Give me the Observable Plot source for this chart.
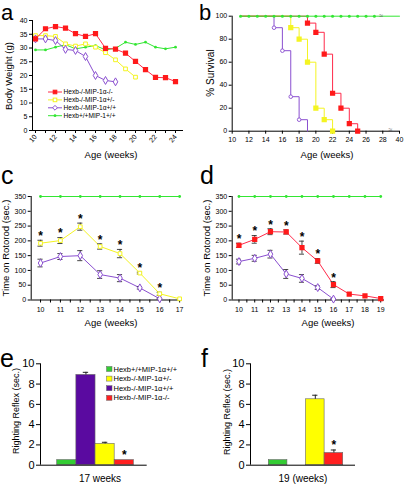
<!DOCTYPE html>
<html><head><meta charset="utf-8">
<script src="https://cdn.jsdelivr.net/npm/d3@7"></script>
<script src="https://cdn.jsdelivr.net/npm/@observablehq/plot@0.6"></script>
<style>
body{margin:0;background:#fff;}
#fig{position:relative;width:405px;height:485px;overflow:hidden;background:#fff;font-family:Arial,"Liberation Sans",Helvetica,sans-serif;}
#fig svg{position:absolute;overflow:visible;}
</style></head><body><div id="fig"></div>
<script>
// ---------- DATA ----------
// Panel a: body weight (g) by age (weeks)
const weeksA = [10,11,12,13,14,15,16,17,18,19,20,21,22,23,24];
const weightRed = [33.3,37.0,37.8,37.2,35.2,34.2,35.2,29.9,29.6,28.1,25.1,22.1,19.3,19.2,17.8];
const weightYellow = [34.5,34.5,34.2,31.5,30.7,31.5,30.3,28.3,25.7,22.4,19.4];
const weightPurple = [33.3,33.3,32.7,29.5,29.1,26.9,20.0,18.2,17.7];
const weightGreen = [29.3,29.3,30.3,31.2,29.7,30.3,30.9,29.3,29.9,32.1,31.3,32.1,30.3,29.7,30.3];
const ticksYA = [0,5,10,15,20,25,30,35,40];
const legendA = ["Hexb-/-MIP-1α-/-","Hexb-/-MIP-1α+/-","Hexb-/-MIP-1α+/+","Hexb+/+MIP-1+/+"];

// Panel b: % survival (40 weeks drawn after a break at 28)
const survWeeksRed = [11,19,20,21,22,23,24,25];
const survRed = [100,94,86,67,33,20,6.5,0];
const survWeeksYellow = [11,17,18,19,20,21,22];
const survYellow = [100,90,80,60,20,10,0];
const survWeeksPurple = [11,15,16,17,18,19];
const survPurple = [100,90,70,30,10,0];
const survWeeksGreen = [11,12,13,14,15,16,17,18,19,20,21,22,23,24,25,26,27,40];
const survGreen = survWeeksGreen.map(() => 100);
const ticksXB = [10,12,14,16,18,20,22,24,26,28,40];
const ticksYB = [0,20,40,60,80,100];

// Panel c: rotorod (sec.)
const weeksC = [10,11,12,13,14,15,16,17];
const rotoYellowC = [192,201,248,181,157,91,21,4];
const rotoYellowErrC = [10,10,12,9,14,3,5,0];
const rotoPurpleC = [125,147,150,86,74,41,4];
const rotoPurpleErrC = [13,10,17,13,12,4,2];
const starsC = [true,true,true,true,true,true,true,false];
const rotoGreenC = [350,350,350,350,350,350,350,350];

// Panel d: rotorod (sec.)
const weeksD = [10,11,12,13,14,15,16,17,18,19];
const rotoRedD = [185,205,231,230,177,132,52,20,14,5];
const rotoRedErrD = [7,13,10,7,22,8,10,0,0,0];
const rotoPurpleD = [130,141,155,88,73,42,3];
const rotoPurpleErrD = [8,10,13,15,13,6,2];
const starsD = [true,true,true,true,true,true,true,false,false,false];
const rotoGreenD = [350,350,350,350,350,350,350,350,350,350];
const ticksYCD = [0,50,100,150,200,250,300,350];

// Panels e, f: righting reflex (sec.)
const groupsE = ["Hexb+/+MIP-1α+/+","Hexb-/-MIP-1α+/+","Hexb-/-MIP-1α+/-","Hexb-/-MIP-1α-/-"];
const reflex17 = [0.5, 8.9, 2.1, 0.5];
const reflex17Err = [0, 0.26, 0.16, 0];
const stars17 = [false,false,false,true];
const reflex19 = [0.5, null, 6.5, 1.2];
const reflex19Err = [0, 0, 0.4, 0.3];
const stars19 = [false,false,false,true];
const legendE = ["Hexb+/+MIP-1α+/+","Hexb-/-MIP-1α+/-","Hexb-/-MIP-1α+/+","Hexb-/-MIP-1α-/-"];
const ticksYE = [0,2,4,6,8,10];

// ---------- STYLE ----------
const FONT = "Arial, 'Liberation Sans', Helvetica, sans-serif";
const RED = "#ff2a4a", REDM = "#ff1a1a", YEL = "#f4f422", PUR = "#8a4fd0", GRN = "#33e633";
const BAR = {green:"#33cc33", purple:"#5a0aa0", yellow:"#ffff00", red:"#ff2020"};
const fig = document.getElementById("fig");
function place(node, left, top){ node.style.left = left+"px"; node.style.top = top+"px"; fig.appendChild(node); }
const baseStyle = (fs) => ({fontFamily: FONT, fontSize: fs, color:"#000", background:"transparent", overflow:"visible"});
const rows = (ws, vs, extra={}) => vs.map((v,i) => ({week: ws[i], value: v, i, ...extra}));

// ---------- PANEL A ----------
const aRed = rows(weeksA, weightRed), aYel = rows(weeksA, weightYellow), aPur = rows(weeksA, weightPurple), aGrn = rows(weeksA, weightGreen);
const plotA = Plot.plot({
  width: 200, height: 165, marginLeft: 32, marginRight: 17, marginTop: 20, marginBottom: 35,
  style: baseStyle("7px"),
  x: {domain: [9.7, 24.8], label: null},
  y: {domain: [0, 40], label: null},
  marks: [
    Plot.axisY({ticks: ticksYA, tickSize: 3, tickPadding: 2, label: null}),
    Plot.axisX({ticks: weeksA, tickSize: 3, tickPadding: 2, tickRotate: -50, tickFormat: d => d % 2 === 0 ? String(d) : "", label: null}),
    Plot.ruleX([9.7], {stroke: "#000"}),
    Plot.ruleY([0], {stroke: "#000"}),
    Plot.line(aGrn, {x: "week", y: "value", stroke: GRN, strokeWidth: 1}),
    Plot.line(aYel, {x: "week", y: "value", stroke: YEL, strokeWidth: 1}),
    Plot.line(aPur, {x: "week", y: "value", stroke: PUR, strokeWidth: 1}),
    Plot.line(aRed, {x: "week", y: "value", stroke: RED, strokeWidth: 1}),
    Plot.dot(aGrn, {x: "week", y: "value", r: 1.4, fill: GRN, stroke: null}),
    Plot.dot(aYel, {x: "week", y: "value", symbol: "square", r: 2.1, fill: "#fff", stroke: YEL, strokeWidth: 1}),
    Plot.dot(aPur, {x: "week", y: "value", symbol: "diamond", r: 2.4, fill: "#fff", stroke: PUR, strokeWidth: 1}),
    Plot.dot(aRed, {x: "week", y: "value", symbol: "square", r: 2.1, fill: REDM, stroke: REDM})
  ]
});
place(plotA, 0, 0);

// ---------- PANEL B ----------
const xb = w => w === 40 ? 30 : w;
const bRed = survRed.map((v,i)=>({week: xb(survWeeksRed[i]), value: v, i}));
const bYel = survYellow.map((v,i)=>({week: xb(survWeeksYellow[i]), value: v, i}));
const bPur = survPurple.map((v,i)=>({week: xb(survWeeksPurple[i]), value: v, i}));
const bGrn = survGreen.map((v,i)=>({week: xb(survWeeksGreen[i]), value: v, i, w: survWeeksGreen[i]}));
const plotB = Plot.plot({
  width: 205, height: 165, marginLeft: 31.7, marginRight: 6, marginTop: 15.7, marginBottom: 34.3,
  style: baseStyle("7px"),
  x: {domain: [10, 30], label: null},
  y: {domain: [0, 100], label: null},
  marks: [
    Plot.axisY({ticks: ticksYB, tickSize: 3, tickPadding: 2, label: null}),
    Plot.axisX({ticks: ticksXB.map(xb), tickSize: 3, tickPadding: 3, tickFormat: d => String(ticksXB[ticksXB.map(xb).indexOf(d)]), label: null}),
    Plot.ruleX([10], {stroke: "#000"}),
    Plot.ruleY([0], {stroke: "#000"}),
    Plot.line(bPur, {x: "week", y: "value", stroke: PUR, strokeWidth: 1, curve: "step-after"}),
    Plot.line(bYel, {x: "week", y: "value", stroke: YEL, strokeWidth: 1, curve: "step-after"}),
    Plot.line(bRed, {x: "week", y: "value", stroke: RED, strokeWidth: 1, curve: "step-after"}),
    Plot.line(bGrn, {x: "week", y: "value", stroke: GRN, strokeWidth: 1}),
    Plot.dot(bGrn.filter(d => d.w !== 40), {x: "week", y: "value", r: 1.5, fill: GRN, stroke: null}),
    Plot.dot(bPur.filter(d => d.i > 0 && d.value > 0), {x: "week", y: "value", r: 1.8, fill: "#fff", stroke: PUR, strokeWidth: 0.9}),
    Plot.dot(bYel.filter(d => d.i > 0), {x: "week", y: "value", symbol: "square", r: 2.1, fill: YEL, stroke: YEL}),
    Plot.dot(bRed.filter(d => d.i > 0), {x: "week", y: "value", symbol: "square", r: 2.1, fill: REDM, stroke: REDM}),
    Plot.text([100], {x: 27.8, y: d => d, text: () => "≈", fontSize: 7, fill: "#555"}),
    Plot.text([0], {x: 28.9, y: d => d, text: () => "≈", fontSize: 7, fill: "#555", dy: -1})
  ]
});
place(plotB, 200, 0);

// ---------- PANEL C ----------
const cYel = rows(weeksC, rotoYellowC).map(d => ({...d, e: rotoYellowErrC[d.i], star: starsC[d.i]}));
const cPur = rows(weeksC, rotoPurpleC).map(d => ({...d, e: rotoPurpleErrC[d.i]}));
const cGrn = rows(weeksC, rotoGreenC);
function rotorodPlot(width, mL, mR, xdom, ticksX, series, cap){
  const marks = [
    Plot.axisY({ticks: ticksYCD, tickSize: 3, tickPadding: 2, label: null}),
    Plot.axisX({ticks: ticksX, tickSize: 3, tickPadding: 4, tickFormat: d => Number.isInteger(d) ? String(d) : "", label: null}),
    Plot.ruleX([xdom[0]], {stroke: "#000"}),
    Plot.ruleY([0], {stroke: "#000"})
  ];
  for (const s of series) {
    marks.push(Plot.line(s.data, {x: "week", y: "value", stroke: s.color, strokeWidth: 1}));
  }
  for (const s of series) {
    if (s.err) {
      const ed = s.data.filter(d => d.e > 0);
      marks.push(Plot.ruleX(ed, {x: "week", y1: d => d.value - d.e, y2: d => d.value + d.e, stroke: "#333", strokeWidth: 0.9}));
      marks.push(Plot.ruleY(ed, {y: d => d.value + d.e, x1: d => d.week - cap, x2: d => d.week + cap, stroke: "#333", strokeWidth: 0.9}));
      marks.push(Plot.ruleY(ed, {y: d => d.value - d.e, x1: d => d.week - cap, x2: d => d.week + cap, stroke: "#333", strokeWidth: 0.9}));
    }
  }
  for (const s of series) marks.push(Plot.dot(s.data, {x: "week", y: "value", ...s.dot}));
  for (const s of series) if (s.stars) {
    marks.push(Plot.text(s.data.filter(d => d.star), {x: "week", y: d => d.value + d.e, text: () => "*", fontSize: 12, fontWeight: "bold", fill: "#000", dy: -4}));
  }
  return Plot.plot({
    width, height: 165, marginLeft: mL, marginRight: mR, marginTop: 31, marginBottom: 30.5,
    style: baseStyle("7px"),
    x: {domain: xdom, label: null},
    y: {domain: [0, 350], label: null},
    marks
  });
}
const plotC = rotorodPlot(200, 30.7, 18.3, [9.53, 17.13], d3.range(9.5, 17.01, 0.5).filter(t => t >= 9.53), [
  {data: cGrn, color: GRN, dot: {r: 1.4, fill: GRN, stroke: null}},
  {data: cPur, color: PUR, err: true, dot: {symbol: "diamond", r: 2.4, fill: "#fff", stroke: PUR, strokeWidth: 1}},
  {data: cYel, color: YEL, err: true, stars: true, dot: {symbol: "square", r: 2.1, fill: "#fff", stroke: YEL, strokeWidth: 1}}
], 0.13);
place(plotC, 0, 165);

// ---------- PANEL D ----------
const dRed = rows(weeksD, rotoRedD).map(d => ({...d, e: rotoRedErrD[d.i], star: starsD[d.i]}));
const dPur = rows(weeksD, rotoPurpleD).map(d => ({...d, e: rotoPurpleErrD[d.i]}));
const dGrn = rows(weeksD, rotoGreenD);
const plotD = rotorodPlot(205, 31.7, 21, [9.57, 19.24], d3.range(9.5, 19.01, 0.5).filter(t => t >= 9.57), [
  {data: dGrn, color: GRN, dot: {r: 1.4, fill: GRN, stroke: null}},
  {data: dPur, color: PUR, err: true, dot: {symbol: "diamond", r: 2.4, fill: "#fff", stroke: PUR, strokeWidth: 1}},
  {data: dRed, color: RED, err: true, stars: true, dot: {symbol: "square", r: 2.1, fill: REDM, stroke: REDM}}
], 0.16);
place(plotD, 200, 165);

// ---------- PANELS E, F ----------
const barColors = [BAR.green, BAR.purple, BAR.yellow, BAR.red];
function reflexPlot(vals, errs, stars, width, mL, mR, xdom){
  const data = groupsE.map((g,i) => ({group: g, i, value: vals[i], e: errs[i], star: stars[i], color: barColors[i]})).filter(d => d.value != null);
  const ed = data.filter(d => d.e > 0);
  return Plot.plot({
    width, height: 145, marginLeft: mL, marginRight: mR, marginTop: 23.3, marginBottom: 20.3,
    style: baseStyle("11px"),
    x: {domain: xdom, axis: null},
    y: {domain: [0, 10], label: null},
    marks: [
      Plot.axisY({ticks: ticksYE, tickSize: 4, tickPadding: 2, label: null}),
      Plot.rect(data, {x1: d => d.i - 0.5, x2: d => d.i + 0.5, y1: 0, y2: "value", fill: "color", stroke: "#666", strokeWidth: 0.6}),
      Plot.ruleX(ed, {x: "i", y1: "value", y2: d => d.value + d.e, stroke: "#222", strokeWidth: 1}),
      Plot.ruleY(ed, {y: d => d.value + d.e, x1: d => d.i - 0.14, x2: d => d.i + 0.14, stroke: "#222", strokeWidth: 1}),
      Plot.text(data.filter(d => d.star), {x: "i", y: d => d.value + d.e, text: () => "*", fontSize: 12, fontWeight: "bold", dy: -5}),
      Plot.ruleX([xdom[0]], {stroke: "#000"}),
      Plot.ruleY([0], {stroke: "#000"})
    ]
  });
}
place(reflexPlot(reflex17, reflex17Err, stars17, 200, 40, 53.3, [-1.373, 4.198]), 0, 340);
place(reflexPlot(reflex19, reflex19Err, stars19, 205, 50, 50, [-1.484, 4.161]), 200, 340);

// ---------- OVERLAY TEXT (letters, titles, legends) ----------
const NS = "http://www.w3.org/2000/svg";
const ov = document.createElementNS(NS, "svg");
ov.setAttribute("width", 405); ov.setAttribute("height", 485);
ov.style.left = "0px"; ov.style.top = "0px"; ov.style.pointerEvents = "none";
ov.setAttribute("font-family", FONT);
function el(tag, attrs, text){ const e = document.createElementNS(NS, tag); for (const k in attrs) e.setAttribute(k, attrs[k]); if (text != null) e.textContent = text; ov.appendChild(e); return e; }
// panel letters
[["a",1,20,22],["b",199,20,22],["c",1,184,25],["d",200,184,25],["e",0,367,25],["f",201,367,25]].forEach(([t,x,y,fs]) => el("text", {x, y, "font-size": fs}, t));
// rotated y titles
[["Body Weight (g)",9,76,9.5],["% Survival",210,73,10],["Time on Rotorod (sec.)",6,248,9.5],["Time on Rotorod (sec.)",207,248,9.5],["Righting Reflex (sec.)",16,411,9],["Righting Reflex (sec.)",227,412,9]]
  .forEach(([t,x,y,fs]) => el("text", {transform: `translate(${x},${y}) rotate(-90)`, "text-anchor": "middle", dy: "0.35em", "font-size": fs}, t));
// x titles
[["Age (weeks)",111,155],["Age (weeks)",327,155],["Age (weeks)",111,323],["Age (weeks)",328,323]]
  .forEach(([t,x,y]) => el("text", {x, y, "text-anchor": "middle", dy: "0.35em", "font-size": 9.5}, t));
el("text", {x: 100, y: 478, "text-anchor": "middle", dy: "0.35em", "font-size": 10}, "17 weeks");
el("text", {x: 303, y: 478, "text-anchor": "middle", dy: "0.35em", "font-size": 10}, "19 (weeks)");
// legend a
const legAStyle = [
  {c: RED, m: "sq", fill: REDM},
  {c: YEL, m: "sq", fill: "#fff"},
  {c: PUR, m: "di", fill: "#fff"},
  {c: GRN, m: "ci", fill: GRN}
];
legendA.forEach((t, k) => {
  const y = 92 + k * 7.9, s = legAStyle[k];
  el("line", {x1: 48, x2: 62, y1: y, y2: y, stroke: s.c, "stroke-width": 1});
  if (s.m === "sq") el("rect", {x: 53.2, y: y - 1.8, width: 3.6, height: 3.6, fill: s.fill, stroke: s.fill === "#fff" ? s.c : s.fill, "stroke-width": 1});
  else if (s.m === "di") el("path", {d: `M55,${y-2.4}L57.4,${y}L55,${y+2.4}L52.6,${y}Z`, fill: "#fff", stroke: s.c, "stroke-width": 1});
  else el("circle", {cx: 55, cy: y, r: 1.4, fill: s.fill});
  el("text", {x: 63.5, y, dy: "0.35em", "font-size": 6.6}, t);
});
// legend e
const legECol = [BAR.green, BAR.yellow, BAR.purple, BAR.red];
legendE.forEach((t, k) => {
  const y = 369 + k * 9.6;
  el("rect", {x: 106.5, y: y - 2.5, width: 5.5, height: 5, fill: legECol[k], stroke: "#666", "stroke-width": 0.5});
  el("text", {x: 113.5, y, dy: "0.35em", "font-size": 7.5}, t);
});
fig.appendChild(ov);
</script></body></html>
